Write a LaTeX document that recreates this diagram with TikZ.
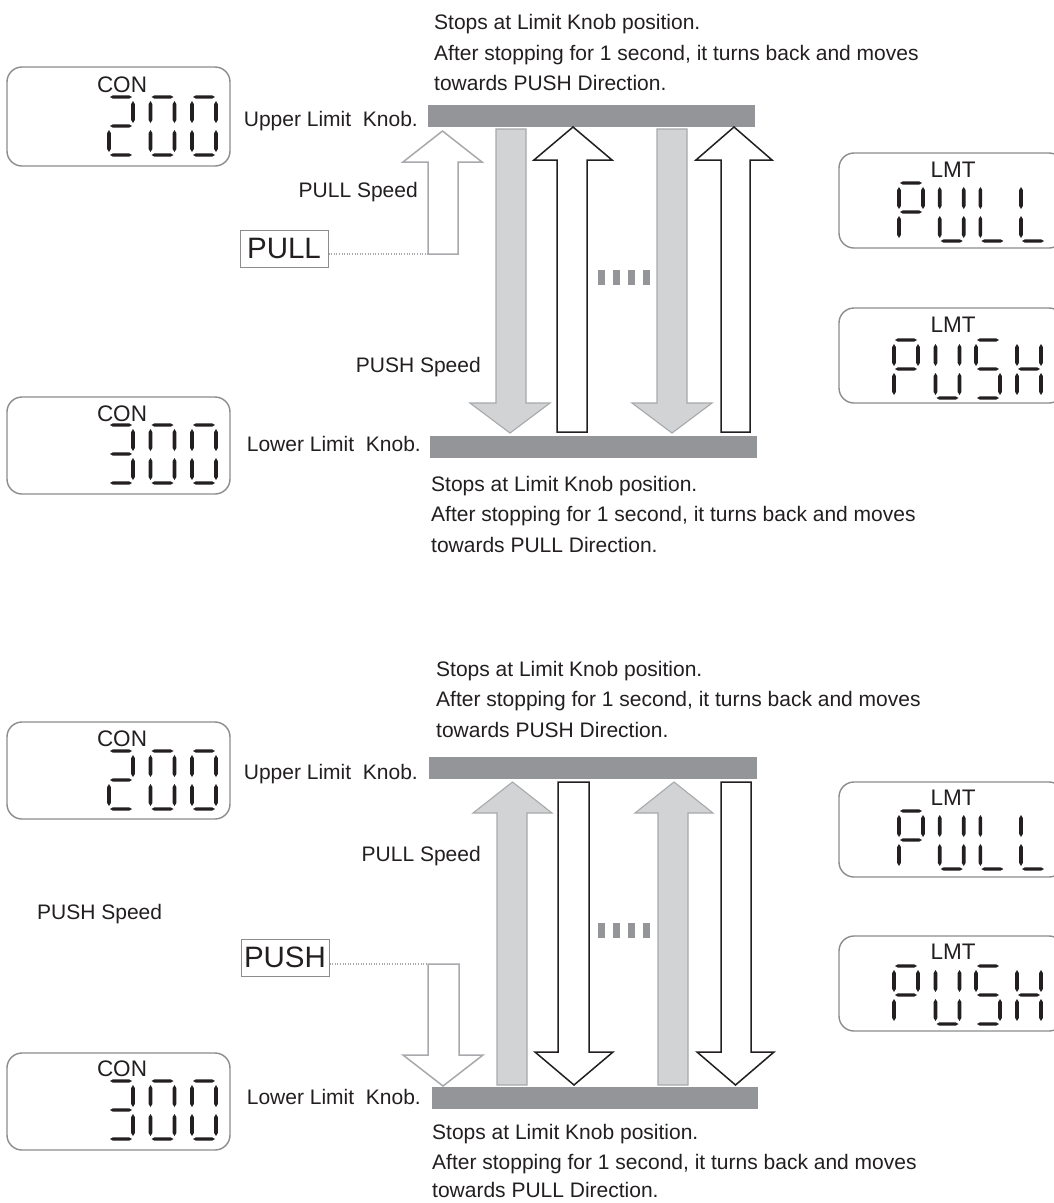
\documentclass[tikz,border=0pt]{standalone}
\usepackage{fontspec}
\setmainfont{Liberation Sans}
\definecolor{barc}{HTML}{939598}
\definecolor{lgray}{HTML}{D1D3D4}
\definecolor{mgray}{HTML}{A7A9AC}
\definecolor{dispc}{HTML}{8C8C8C}
\definecolor{ink}{HTML}{231F20}
\tikzset{
  txt/.style={font=\fontsize{21}{24}\selectfont, inner sep=0pt, text=ink},
  big/.style={font=\fontsize{22.5}{24}\selectfont, inner sep=0pt, text=ink},
  disp/.style={draw=dispc, line width=1.4pt, rounded corners=15pt},
  segc/.style={fill=ink},
  hollowgray/.style={draw=mgray, line width=1.5pt, fill=white},
  grayfill/.style={draw=mgray, line width=1.1pt, fill=lgray},
  blackout/.style={draw=ink, line width=1.5pt, fill=white},
  knobbar/.style={fill=barc},
  modebox/.style={draw=dispc, line width=1pt, font=\fontsize{29.5}{30}\selectfont, text=ink, minimum width=88pt, minimum height=37pt, inner sep=0pt},
  dotline/.style={draw=mgray, line width=1.2pt, dash pattern=on 1pt off 1.6pt},
  markc/.style={fill=barc}
}
\newcommand\hsg[2]{\fill[segc] (#1,#2) -- ++(3,-1.7) -- ++(16,0) -- ++(3,1.7) -- ++(-3,1.7) -- ++(-16,0) -- cycle;}
\newcommand\vsg[2]{\fill[segc] (#1,#2) -- ++(1.8,3) -- ++(0,16) -- ++(-1.8,3) -- ++(-1.8,-3) -- ++(0,-16) -- cycle;}
\newcommand\segA{\hsg{\DX}{\DY}}
\newcommand\segG{\hsg{\DX}{\DY+29}}
\newcommand\segD{\hsg{\DX}{\DY+58}}
\newcommand\segF{\vsg{\DX-1}{\DY+4}}
\newcommand\segB{\vsg{\DX+23}{\DY+4}}
\newcommand\segE{\vsg{\DX-1}{\DY+33}}
\newcommand\segC{\vsg{\DX+23}{\DY+33}}
\newcommand\sevenseg[3]{\def\DX{#1}\def\DY{#2}#3}
\newcommand\blockarrow[8]{\draw[#1] (#2,#6) -- (#2,#7) -- (#4,#7) -- ({(#4+#5)/2},#8) -- (#5,#7) -- (#3,#7) -- (#3,#6) -- cycle;}
\begin{document}
\begin{tikzpicture}[x=1pt,y=-1pt]
\useasboundingbox (0,0) rectangle (1054,1203);
\fill[white] (0,0) rectangle (1054,1203);

% ================= TOP SECTION =================
\node[txt, anchor=base west] (t1) at (434,29.5) {Stops at Limit Knob position.};
\node[txt, anchor=base west] (t2) at (434,60) {After stopping for 1 second, it turns back and moves};
\node[txt, anchor=base west] (t3) at (434,90.5) {towards PUSH Direction.};

% CON 200
\draw[disp] (7,67) rectangle (230,166);
\node[big] (con1) at (122,85) {CON};
\sevenseg{110}{97}{\segA\segB\segG\segE\segD}
\sevenseg{151.5}{97}{\segA\segB\segC\segD\segE\segF}
\sevenseg{193}{97}{\segA\segB\segC\segD\segE\segF}

% CON 300
\draw[disp] (7,397) rectangle (230,494);
\node[big] (con2) at (122,414) {CON};
\sevenseg{110}{425}{\segA\segB\segC\segD\segG}
\sevenseg{151.5}{425}{\segA\segB\segC\segD\segE\segF}
\sevenseg{193}{425}{\segA\segB\segC\segD\segE\segF}

% LMT PULL
\draw[disp] (839,153) rectangle (1064,248);
\node[big] (lmt1) at (953,170) {LMT};
\sevenseg{900}{183}{\segA\segB\segF\segG\segE}
\sevenseg{940.7}{183}{\segB\segC\segD\segE\segF}
\sevenseg{981.4}{183}{\segF\segE\segD}
\sevenseg{1022}{183}{\segF\segE\segD}

% LMT PUSH
\draw[disp] (839,308) rectangle (1064,403);
\node[big] (lmt2) at (953,325) {LMT};
\sevenseg{895}{340}{\segA\segB\segF\segG\segE}
\sevenseg{936.5}{340}{\segB\segC\segD\segE\segF}
\sevenseg{977}{340}{\segA\segF\segG\segC\segD}
\sevenseg{1018}{340}{\segB\segC\segE\segF\segG}

% bars
\fill[knobbar] (428,105) rectangle (755,127);
\fill[knobbar] (430,436) rectangle (757,458);
\node[txt, anchor=base east] (ul1) at (418,126.5) {Upper Limit\ \ Knob.};
\node[txt, anchor=base east] (ll1) at (421,451.5) {Lower Limit\ \ Knob.};
\node[txt, anchor=base east] (pls1) at (418,197.5) {PULL Speed};
\node[txt, anchor=base east] (phs1) at (481,372) {PUSH Speed};

% arrows
\blockarrow{hollowgray}{428}{458}{403}{482}{254}{162}{131}
\blockarrow{grayfill}{496}{526}{470}{550}{129}{403}{433}
\blockarrow{grayfill}{657}{687}{632}{712}{129}{403}{433}
\blockarrow{blackout}{557}{587}{534}{612}{432}{160}{127}
\blockarrow{blackout}{721}{750}{696}{772}{432}{160}{127}

\node[modebox] (pullbox) at (284,248.5) {PULL};
\coordinate (pullend) at (428,254);
\draw[dotline] (pullbox.east |- pullend) -- (pullend);

\foreach \i in {0,1,2,3}{\fill[markc] (598+15*\i,270) rectangle ++(7,15);}

\node[txt, anchor=base west] (t4) at (431,491) {Stops at Limit Knob position.};
\node[txt, anchor=base west] (t5) at (431,521.5) {After stopping for 1 second, it turns back and moves};
\node[txt, anchor=base west] (t6) at (431,552) {towards PULL Direction.};

% ================= BOTTOM SECTION =================
\node[txt, anchor=base west] (t7) at (436,676) {Stops at Limit Knob position.};
\node[txt, anchor=base west] (t8) at (436,706.5) {After stopping for 1 second, it turns back and moves};
\node[txt, anchor=base west] (t9) at (436,737) {towards PUSH Direction.};

% CON 200
\draw[disp] (7,722) rectangle (230,819);
\node[big] (con3) at (122,739) {CON};
\sevenseg{110}{751}{\segA\segB\segG\segE\segD}
\sevenseg{151.5}{751}{\segA\segB\segC\segD\segE\segF}
\sevenseg{193}{751}{\segA\segB\segC\segD\segE\segF}

% CON 300
\draw[disp] (7,1053) rectangle (230,1150);
\node[big] (con4) at (122,1069) {CON};
\sevenseg{110}{1081}{\segA\segB\segC\segD\segG}
\sevenseg{151.5}{1081}{\segA\segB\segC\segD\segE\segF}
\sevenseg{193}{1081}{\segA\segB\segC\segD\segE\segF}

% LMT PULL
\draw[disp] (839,782) rectangle (1064,877);
\node[big] (lmt3) at (953,798) {LMT};
\sevenseg{900}{811}{\segA\segB\segF\segG\segE}
\sevenseg{940.7}{811}{\segB\segC\segD\segE\segF}
\sevenseg{981.4}{811}{\segF\segE\segD}
\sevenseg{1022}{811}{\segF\segE\segD}

% LMT PUSH
\draw[disp] (839,936) rectangle (1064,1031);
\node[big] (lmt4) at (953,952) {LMT};
\sevenseg{895}{966}{\segA\segB\segF\segG\segE}
\sevenseg{936.5}{966}{\segB\segC\segD\segE\segF}
\sevenseg{977}{966}{\segA\segF\segG\segC\segD}
\sevenseg{1018}{966}{\segB\segC\segE\segF\segG}

% bars
\fill[knobbar] (429,757) rectangle (757,779);
\fill[knobbar] (432,1087) rectangle (758,1109);
\node[txt, anchor=base east] (ul2) at (418,779) {Upper Limit\ \ Knob.};
\node[txt, anchor=base east] (ll2) at (421,1104.5) {Lower Limit\ \ Knob.};
\node[txt, anchor=base east] (pls2) at (481,861.5) {PULL Speed};
\node[txt, anchor=base west] (phs2) at (37,919.5) {PUSH Speed};

% arrows
\blockarrow{grayfill}{497}{527}{473}{552}{1085}{813}{782}
\blockarrow{grayfill}{658}{688}{635}{713}{1085}{813}{782}
\blockarrow{blackout}{558}{589}{535}{613}{782}{1052}{1085}
\blockarrow{blackout}{721}{751}{697}{774}{782}{1052}{1085}
\blockarrow{hollowgray}{428}{459}{403}{483}{964}{1055}{1086}

\node[modebox] (pushbox) at (285,957.5) {PUSH};
\coordinate (pushend) at (428,964);
\draw[dotline] (pushbox.east |- pushend) -- (pushend);

\foreach \i in {0,1,2,3}{\fill[markc] (598+15*\i,923) rectangle ++(7,15);}

\node[txt, anchor=base west] (t10) at (432,1139.5) {Stops at Limit Knob position.};
\node[txt, anchor=base west] (t11) at (432,1169) {After stopping for 1 second, it turns back and moves};
\node[txt, anchor=base west] (t12) at (432,1197.5) {towards PULL Direction.};
\end{tikzpicture}
\end{document}
